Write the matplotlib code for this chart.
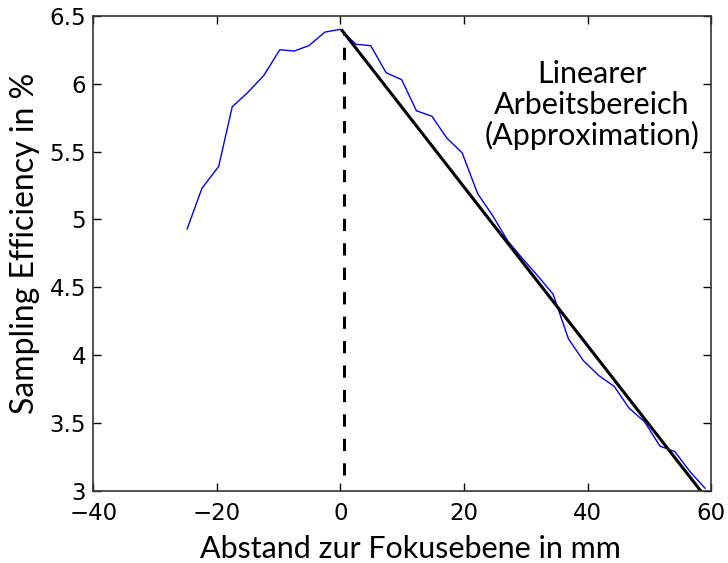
import matplotlib
matplotlib.use("Agg")
import matplotlib.pyplot as plt

# Measured sampling efficiency over distance to the focal plane
distance_mm = [-24.8, -22.4, -19.7, -17.5, -15.1, -12.4, -9.8, -7.5, -5.1, -2.5,
               0.0, 2.5, 4.9, 7.4, 9.9, 12.3, 14.8, 17.2, 19.7, 22.2,
               24.6, 27.1, 29.5, 32.0, 34.4, 36.9, 39.3, 41.8, 44.3, 46.7,
               49.2, 51.7, 54.1, 56.6, 59.0]
efficiency = [4.93, 5.23, 5.39, 5.83, 5.93, 6.06, 6.25, 6.24, 6.28, 6.38,
              6.40, 6.29, 6.28, 6.08, 6.03, 5.80, 5.76, 5.60, 5.49, 5.19,
              5.03, 4.84, 4.71, 4.58, 4.45, 4.12, 3.96, 3.85, 3.77, 3.61,
              3.51, 3.33, 3.29, 3.14, 3.02]

# Linear approximation of the working range
fit_x = [0.3, 58.3]
fit_y = [6.39, 3.0]

# Marker for the focal plane
focus_x = [0.5, 0.5]
focus_y = [3.12, 6.38]

x_ticks = [-40, -20, 0, 20, 40, 60]
y_ticks = [3, 3.5, 4, 4.5, 5, 5.5, 6, 6.5]
y_tick_labels = ["3", "3.5", "4", "4.5", "5", "5.5", "6", "6.5"]

fig = plt.figure(figsize=(7.28, 5.63), dpi=100)
ax = fig.add_axes([0.128, 0.128, 0.849, 0.844])

ax.plot(distance_mm, efficiency, "-", color="#0000ff", linewidth=1.0)
ax.plot(fit_x, fit_y, "-", color="black", linewidth=2.2)
ax.plot(focus_x, focus_y, "--", color="black", linewidth=2.2, dashes=(4, 4))

ax.set_xlim(-40, 60)
ax.set_ylim(3, 6.5)
ax.set_xticks(x_ticks)
ax.set_xticklabels([str(t).replace("-", "\u2212") for t in x_ticks])
ax.set_yticks(y_ticks)
ax.set_yticklabels(y_tick_labels)

for lab in ax.get_xticklabels() + ax.get_yticklabels():
    lab.set_fontfamily("DejaVu Sans")
    lab.set_fontsize(16.5)

ax.tick_params(direction="in", length=6, width=1, top=True, right=True)
ax.tick_params(axis="x", pad=8)
ax.tick_params(axis="y", pad=5)
for spine in ax.spines.values():
    spine.set_linewidth(1.2)
    spine.set_color("#333333")

ax.set_xlabel("Abstand zur Fokusebene in mm", fontfamily="Lato", fontsize=22)
ax.xaxis.set_label_coords(0.513, -0.122, transform=ax.transAxes)
ax.xaxis.label.set_va("center")
ax.set_ylabel("Sampling Efficiency in %", fontfamily="Lato", fontsize=23)
ax.yaxis.set_label_coords(-0.11, 0.52, transform=ax.transAxes)
ax.yaxis.label.set_va("center")

ax.text(40.7, 5.84, "Linearer\nArbeitsbereich\n(Approximation)", ha="center", va="center",
        fontfamily="Lato", fontsize=22, linespacing=1.1)

fig.savefig("out.png", dpi=100)
